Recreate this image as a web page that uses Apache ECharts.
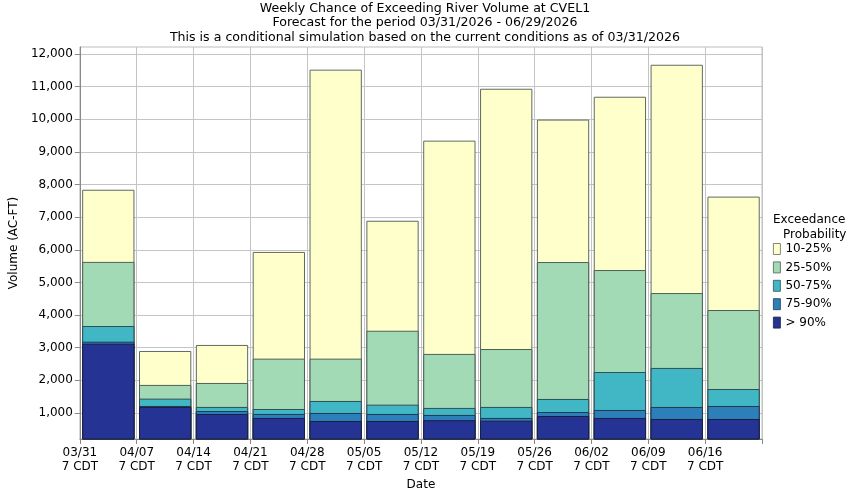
<!DOCTYPE html>
<html>
<head>
<meta charset="utf-8">
<script src="https://cdn.jsdelivr.net/npm/echarts@6/dist/echarts.min.js"></script>
<style>
html,body{margin:0;padding:0;background:#fff;}
#chart{width:850px;height:500px;}
</style>
</head>
<body>
<div id="chart"></div>
<script>
// Week start dates (tick labels at bar boundaries)
var weekStarts = ['03/31','04/07','04/14','04/21','04/28','05/05','05/12','05/19','05/26','06/02','06/09','06/16'];
var tickSuffix = '7 CDT';
// Exceedance volumes (AC-FT) for each week, per probability level
var p10_25 = [7840, 2900, 3085, 5935, 11520, 6890, 9345, 10935, 9990, 10690, 11670, 7630];
var p25_50 = [5630, 1860, 1920, 2665, 2665, 3520, 2810, 2960, 5625, 5380, 4675, 4155];
var p50_75 = [3665, 1440, 1185, 1122, 1368, 1255, 1155, 1185, 1430, 2256, 2380, 1735];
var p75_90 = [3184, 1215, 1060, 970, 1000, 970, 940, 848, 1030, 1092, 1184, 1214];
var pGt90  = [3123, 1185, 970, 847, 755, 755, 780, 765, 908, 847, 816, 816];
var yTicks = [1000,2000,3000,4000,5000,6000,7000,8000,9000,10000,11000,12000];

var seriesDefs = [
  {name:'10-25%', data:p10_25, color:'#ffffcc', border:'#5f6b5f'},
  {name:'25-50%', data:p25_50, color:'#a1dab4', border:'#4f5f55'},
  {name:'50-75%', data:p50_75, color:'#41b6c4', border:'#2f4f55'},
  {name:'75-90%', data:p75_90, color:'#2c7fb8', border:'#223a4f'},
  {name:'> 90%',  data:pGt90,  color:'#253494', border:'#1a1f40'}
];

var chart = echarts.init(document.getElementById('chart'), null, {renderer:'canvas'});
var font = 'DejaVu Sans';
var option = {
  animation:false,
  backgroundColor:'#fff',
  title:{
    text:'Weekly Chance of Exceeding River Volume at CVEL1\nForecast for the period 03/31/2026 - 06/29/2026\nThis is a conditional simulation based on the current conditions as of 03/31/2026',
    left:425, top:1, padding:0, textAlign:'center',
    textStyle:{fontFamily:font, fontSize:12.6, fontWeight:'normal', color:'#000', lineHeight:14.5}
  },
  legend:{
    orient:'vertical', left:773, top:243, padding:0, itemWidth:7, itemHeight:11, itemGap:6.4,
    icon:'rect',
    itemStyle:{borderWidth:0.8},
    textStyle:{fontFamily:font, fontSize:12, color:'#000'},
    data:seriesDefs.map(function(s){return s.name;})
  },
  graphic:[
    {type:'text', left:773, top:214, style:{text:'Exceedance', fontFamily:font, fontSize:12, fill:'#000'}},
    {type:'text', left:783, top:229, style:{text:'Probability', fontFamily:font, fontSize:12, fill:'#000'}}
  ],
  grid:{left:79, right:88, top:47, bottom:61, show:true, borderColor:'#bdbdbd', borderWidth:1},
  xAxis:[
    {
      type:'value', min:0, max:weekStarts.length, interval:1,
      name:'Date', nameLocation:'middle', nameGap:40,
      nameTextStyle:{fontFamily:font, fontSize:12, color:'#000'},
      axisLine:{show:true, lineStyle:{color:'#888'}},
      axisTick:{show:true, length:5, lineStyle:{color:'#888'}},
      axisLabel:{fontFamily:font, fontSize:12, color:'#000', lineHeight:14, margin:7,
        showMinLabel:true, showMaxLabel:true,
        formatter:function(v){ var i=Math.round(v); return i < weekStarts.length ? weekStarts[i] + '\n' + tickSuffix : ''; }},
      splitLine:{show:true, lineStyle:{color:'#c4c4c4'}}
    },
    {
      type:'category', data:weekStarts, show:false, boundaryGap:true
    }
  ],
  yAxis:{
    type:'value', min:203, max:12214,
    name:'Volume (AC-FT)', nameLocation:'middle', nameGap:57, nameRotate:90,
    nameTextStyle:{fontFamily:font, fontSize:12, color:'#000'},
    axisLine:{show:true, lineStyle:{color:'#888'}},
    axisTick:{show:true, length:5, lineStyle:{color:'#888'}, customValues:yTicks},
    axisLabel:{fontFamily:font, fontSize:12, color:'#000', margin:7, customValues:yTicks},
    splitLine:{show:true, lineStyle:{color:'#c4c4c4'}}
  },
  series:seriesDefs.map(function(s){
    return {
      name:s.name, type:'bar', xAxisIndex:1, data:s.data,
      barGap:'-100%', barCategoryGap:'8%',
      itemStyle:{color:s.color, borderColor:s.border, borderWidth:1}
    };
  })
};
chart.setOption(option);
</script>
</body>
</html>
